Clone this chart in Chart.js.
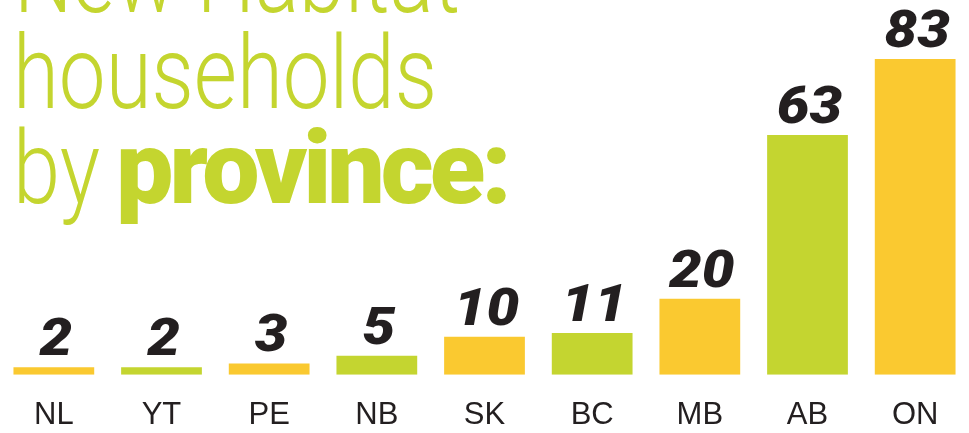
<!DOCTYPE html>
<html>
<head>
<meta charset="utf-8">
<script src="https://cdn.jsdelivr.net/npm/chart.js@4/dist/chart.umd.min.js"></script>
<style>
  html, body { margin: 0; padding: 0; background: #ffffff; overflow: hidden; }
  #wrap { position: relative; width: 969px; height: 433px; }
  #c { position: absolute; left: 0; top: 0; }
  #title { position: absolute; left: 0; top: 0; width: 969px; height: 433px; pointer-events: none; }
</style>
</head>
<body>
<div id="wrap">
  <canvas id="c" width="969" height="433"></canvas>
  <svg id="title" width="969" height="433" xmlns="http://www.w3.org/2000/svg">
    <g fill="#C4D52F">
      <text x="14" y="12" font-family="Roboto, 'Liberation Sans', sans-serif" font-weight="300" font-size="102" textLength="446" lengthAdjust="spacingAndGlyphs">New Habitat</text>
      <text x="13" y="108" font-family="Roboto, 'Liberation Sans', sans-serif" font-weight="300" font-size="102" textLength="424" lengthAdjust="spacingAndGlyphs">households</text>
      <text x="13" y="203" font-family="Roboto, 'Liberation Sans', sans-serif" font-weight="300" font-size="102" textLength="87" lengthAdjust="spacingAndGlyphs">by</text>
      <text x="116" y="203" font-family="Roboto, 'Liberation Sans', sans-serif" font-weight="900" font-size="102" textLength="396" lengthAdjust="spacing">province:</text>
    </g>
  </svg>
</div>
<script>
const categories = ['NL', 'YT', 'PE', 'NB', 'SK', 'BC', 'MB', 'AB', 'ON'];
const households = [2, 2, 3, 5, 10, 11, 20, 63, 83];

const YELLOW = '#FAC930';
const GREEN = '#C4D530';
const INK = '#231F20';

const valueLabels = {
  id: 'valueLabels',
  afterDatasetsDraw(chart) {
    const ctx = chart.ctx;
    const meta = chart.getDatasetMeta(0);
    ctx.save();
    ctx.fillStyle = INK;
    ctx.font = 'italic 900 52px Roboto, "Liberation Sans", Arial, sans-serif';
    ctx.textAlign = 'center';
    ctx.textBaseline = 'alphabetic';
    meta.data.forEach((bar, i) => {
      const txt = String(households[i]);
      ctx.save();
      ctx.translate(bar.x + 2, bar.y - 12);
      ctx.scale(1.12, 1);
      ctx.fillText(txt, 0, 0);
      ctx.restore();
    });
    ctx.restore();
  }
};

new Chart(document.getElementById('c'), {
  type: 'bar',
  data: {
    labels: categories,
    datasets: [{
      data: households,
      backgroundColor: households.map((_, i) => (i % 2 === 0 ? YELLOW : GREEN)),
      borderWidth: 0,
      categoryPercentage: 0.75,
      barPercentage: 1.0
    }]
  },
  options: {
    responsive: false,
    animation: false,
    devicePixelRatio: 1,
    layout: { padding: { left: -4, right: 0, top: 40, bottom: -23 } },
    plugins: {
      legend: { display: false },
      tooltip: { enabled: false },
      title: { display: false }
    },
    scales: {
      x: {
        grid: { display: false, drawTicks: false },
        border: { display: false },
        ticks: {
          color: INK,
          padding: 22,
          font: { family: '"Liberation Sans", Arial, sans-serif', size: 31, weight: 'normal' }
        }
      },
      y: {
        display: false,
        min: 0,
        max: 88
      }
    }
  },
  plugins: [valueLabels]
});
</script>
</body>
</html>
